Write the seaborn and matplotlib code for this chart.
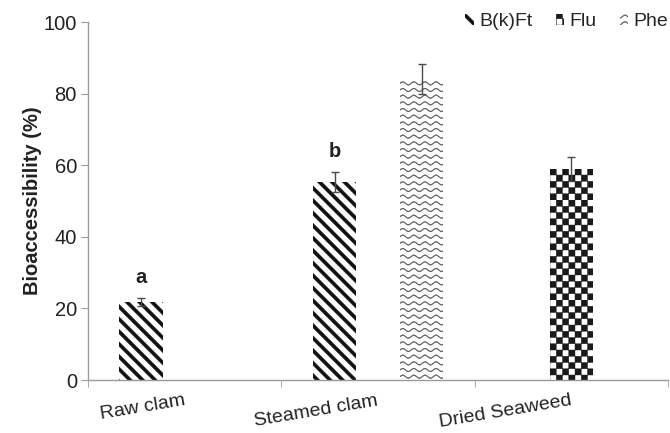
import warnings
import numpy as np
import pandas as pd
import matplotlib
matplotlib.use('Agg')
import matplotlib.pyplot as plt
import matplotlib.hatch as mhatch
import matplotlib.transforms as mtransforms
from matplotlib.path import Path
from matplotlib.patches import Patch
import seaborn as sns

warnings.filterwarnings('ignore')

# Data
samples = ['Raw clam', 'Steamed clam', 'Steamed clam', 'Dried Seaweed']
compounds = ['B(k)Ft', 'B(k)Ft', 'Phe', 'Flu']
values = [21.8, 55.3, 84.1, 58.9]
errors = [1.2, 2.9, 4.2, 3.4]
letters = ['a', 'b', '', '']
sample_order = ['Raw clam', 'Steamed clam', 'Dried Seaweed']
compound_order = ['B(k)Ft', 'Flu', 'Phe']
yticks = [0, 20, 40, 60, 80, 100]


# Custom hatches: 's' = thick diagonal stripes, 'k' = checkerboard, 'w' = waves
class StripeHatch(mhatch.HatchPatternBase):
    def __init__(self, hatch, density):
        self.n = 8
        self.num_vertices = 5 * (2 * self.n + 1) if 's' in hatch else 0

    def set_vertices_and_codes(self, vertices, codes):
        w = 0.023
        polys = []
        for k in range(2 * self.n + 1):
            c = k / self.n
            polys.append([(0, c + w), (1, c - 1 + w), (1, c - 1 - w),
                          (0, c - w), (0, c + w)])
        vertices[:] = np.array(polys, dtype=float).reshape(-1, 2)
        codes[:] = np.tile([Path.MOVETO, Path.LINETO, Path.LINETO,
                            Path.LINETO, Path.CLOSEPOLY], 2 * self.n + 1)


class CheckerHatch(mhatch.HatchPatternBase):
    def __init__(self, hatch, density):
        self.n = 16
        self.num_vertices = 5 * (self.n * self.n // 2) if 'k' in hatch else 0

    def set_vertices_and_codes(self, vertices, codes):
        d = 1.0 / self.n
        polys = []
        for i in range(self.n):
            for j in range(self.n):
                if (i + j) % 2 == 0:
                    x0, y0 = i * d, j * d
                    polys.append([(x0, y0), (x0 + d, y0), (x0 + d, y0 + d),
                                  (x0, y0 + d), (x0, y0)])
        vertices[:] = np.array(polys, dtype=float).reshape(-1, 2)
        codes[:] = np.tile([Path.MOVETO, Path.LINETO, Path.LINETO,
                            Path.LINETO, Path.CLOSEPOLY], len(polys))


class WaveHatch(mhatch.HatchPatternBase):
    def __init__(self, hatch, density):
        self.rows = 15
        self.m = 9 * 12 + 1
        self.num_vertices = self.rows * (2 * self.m + 1) if 'w' in hatch else 0

    def set_vertices_and_codes(self, vertices, codes):
        amp, t = 0.015, 0.004
        xs = np.linspace(0, 1, self.m)
        ys = amp * np.sin(2 * np.pi * 9 * xs)
        out_v, out_c = [], []
        for r in range(self.rows):
            y0 = (r + 0.5) / self.rows
            top = np.column_stack([xs, y0 + ys + t])
            bot = np.column_stack([xs[::-1], y0 + ys[::-1] - t])
            out_v.append(np.vstack([top, bot, top[:1]]))
            c = [Path.MOVETO] + [Path.LINETO] * (2 * self.m - 1) + [Path.CLOSEPOLY]
            out_c.extend(c)
        vertices[:] = np.vstack(out_v)
        codes[:] = out_c


mhatch._hatch_types.extend([StripeHatch, CheckerHatch, WaveHatch])

hatches = {'B(k)Ft': 's', 'Flu': 'k', 'Phe': 'w'}
hatch_colors = {'B(k)Ft': '#111111', 'Flu': '#1a1a1a', 'Phe': '#555555'}

sns.set_style('white')
plt.rcParams['font.family'] = ['Liberation Sans', 'DejaVu Sans']
plt.rcParams['hatch.linewidth'] = 0.3

df = pd.DataFrame({'sample': samples, 'compound': compounds,
                   'value': values, 'error': errors, 'letter': letters})

fig = plt.figure(figsize=(6.7, 4.33), dpi=100)
ax = fig.add_axes([88 / 670, 1 - 380 / 433, 580 / 670, 358 / 433])

sns.barplot(data=df, x='sample', y='value', hue='compound',
            order=sample_order, hue_order=compound_order,
            width=0.675, gap=0, errorbar=None, palette=['white'] * 3,
            linewidth=0, legend=False, ax=ax)

for bar in list(ax.patches):
    cx = bar.get_x() + bar.get_width() / 2
    h = bar.get_height()
    i = int(round(cx))
    row = df[(df['sample'] == sample_order[i]) & np.isclose(df['value'], h)]
    if row.empty:
        continue
    row = row.iloc[0]
    bar.set_hatch(hatches[row['compound']])
    bar.set_edgecolor(hatch_colors[row['compound']])
    bar.set_facecolor('white')
    bar.set_linewidth(0)
    ax.errorbar(cx, h, yerr=row['error'], fmt='none', ecolor='#4a4a4a',
                elinewidth=1, capsize=3, capthick=1, zorder=3)
    if row['letter']:
        ax.text(cx, h + row['error'] + 3, row['letter'], ha='center',
                va='bottom', fontsize=14.5, fontweight='bold', color='#222222')

ax.set_xlim(-0.5, len(sample_order) - 0.5)
ax.set_ylim(0, 100)
ax.set_yticks(yticks)
ax.set_xticks(range(len(sample_order)))
ax.set_xticks(np.arange(-0.5, len(sample_order)), minor=True)
ax.set_xticklabels(sample_order, rotation=9.5, ha='right',
                   rotation_mode='anchor', va='center', fontsize=14,
                   color='#222222')
label_shift = [29, 0, 0]
for lab, dx in zip(ax.get_xticklabels(), label_shift):
    lab.set_transform(lab.get_transform() +
                      mtransforms.ScaledTranslation(dx / 100, 0, fig.dpi_scale_trans))

ax.tick_params(axis='x', which='major', length=0, pad=15)
ax.tick_params(axis='x', which='minor', length=5, color='#9a9a9a',
               direction='out', bottom=True)
ax.tick_params(axis='y', length=5, color='#9a9a9a', direction='out',
               left=True, labelsize=14.5, labelcolor='#222222', pad=3)

for side in ['top', 'right']:
    ax.spines[side].set_visible(False)
for side in ['left', 'bottom']:
    ax.spines[side].set_color('#9a9a9a')
    ax.spines[side].set_linewidth(1)

ax.set_xlabel('')
ax.set_ylabel('Bioaccessibility (%)', fontsize=14.5, fontweight='bold',
              color='#222222', labelpad=1)

handles = [Patch(facecolor='white', edgecolor=hatch_colors[c],
                 hatch=hatches[c], linewidth=0, label=c)
           for c in compound_order]
ax.legend(handles=handles, loc='center right', bbox_to_anchor=(1.0, 1.0),
          ncol=3, frameon=False, fontsize=14, handlelength=0.45,
          handleheight=0.45, handletextpad=0.25, columnspacing=1.2,
          borderaxespad=0, borderpad=0)

fig.savefig('out.png', dpi=100)
